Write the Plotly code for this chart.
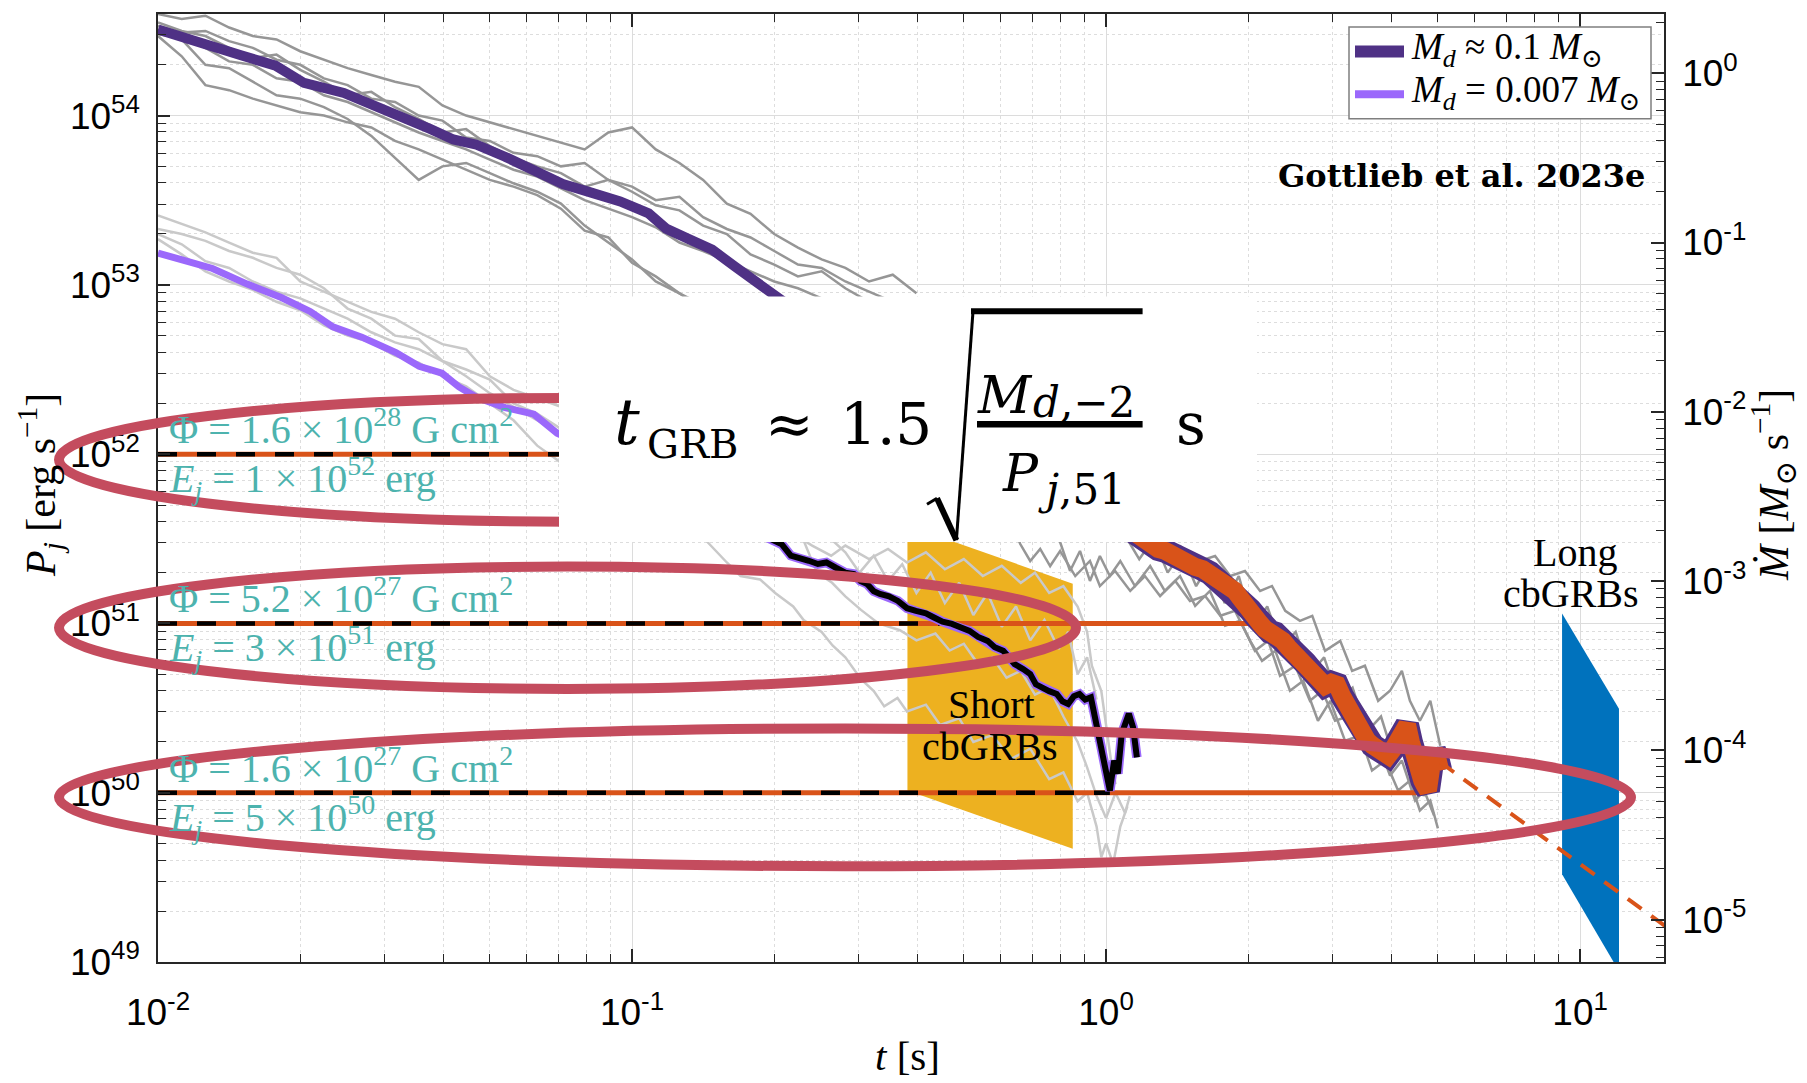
import plotly.graph_objects as go

# ---------------- values (log10 units) ----------------
# t grid shared by the individual Md~0.1 runs (early part)
gray_top_logt = [-2.00, -1.95, -1.90, -1.85, -1.80, -1.75, -1.70, -1.65, -1.60, -1.55, -1.50,
                 -1.45, -1.40, -1.35, -1.30, -1.25, -1.20, -1.15, -1.10, -1.05, -1.00, -0.95,
                 -0.90, -0.85, -0.80, -0.75, -0.70, -0.65, -0.60, -0.55, -0.50, -0.45, -0.40]
run1_logP = [54.60, 54.57, 54.59, 54.52, 54.47, 54.45, 54.38, 54.33, 54.28, 54.24, 54.20, 54.17,
             54.06, 54.00, 53.96, 53.92, 53.88, 53.84, 53.80, 53.90, 53.93, 53.80, 53.72, 53.62,
             53.48, 53.42, 53.30, 53.22, 53.15, 53.10, 53.02, 53.06, 52.95]
run2_logP = [54.55, 54.50, 54.47, 54.40, 54.34, 54.36, 54.27, 54.20, 54.12, 54.14, 54.05, 53.98,
             53.90, 53.92, 53.82, 53.75, 53.70, 53.66, 53.58, 53.62, 53.55, 53.47, 53.44, 53.35,
             53.30, 53.18, 53.12, 53.05, 53.08, 52.98, 52.90, 52.85, 52.80]
run3_logP = [54.50, 54.45, 54.30, 54.28, 54.20, 54.12, 54.10, 54.05, 53.98, 53.88, 53.75, 53.62,
             53.70, 53.72, 53.66, 53.60, 53.55, 53.48, 53.35, 53.25, 53.15, 53.02, 52.95, 52.85,
             52.75, 52.65, 52.55, 52.45, 52.35, 52.25, 52.15, 52.05, 51.95]
run4_logP = [54.47, 54.35, 54.18, 54.15, 54.10, 54.06, 54.02, 54.00, 53.96, 53.93, 53.85, 53.80,
             53.74, 53.68, 53.62, 53.58, 53.53, 53.45, 53.32, 53.28, 53.13, 53.05, 52.95, 52.88,
             52.80, 52.70, 52.60, 52.50, 52.40, 52.30, 52.20, 52.10, 52.00]
run5_logP = [54.53, 54.49, 54.50, 54.44, 54.40, 54.33, 54.30, 54.22, 54.18, 54.10, 54.08, 54.00,
             53.97, 53.87, 53.85, 53.78, 53.76, 53.70, 53.72, 53.62, 53.58, 53.50, 53.52, 53.40,
             53.33, 53.28, 53.20, 53.12, 53.10, 53.02, 52.96, 52.90, 52.85]
run6_logP = [54.48, 54.46, 54.40, 54.32, 54.30, 54.22, 54.20, 54.12, 54.08, 54.02, 53.96, 53.90,
             53.85, 53.80, 53.74, 53.68, 53.64, 53.57, 53.50, 53.45, 53.40, 53.34, 53.25, 53.20,
             53.14, 53.08, 53.02, 52.98, 52.92, 52.88, 52.85, 52.80, 52.75]

# Md~0.1 runs, late part
late1_logt = [-0.20, -0.181, -0.160, -0.139, -0.118, -0.097, -0.065, -0.034, -0.013, 0.019, 0.051,
              0.082, 0.114, 0.146, 0.177, 0.209, 0.241, 0.272, 0.304, 0.329, 0.357, 0.388, 0.416,
              0.447, 0.473, 0.504, 0.536, 0.561, 0.589, 0.616, 0.641, 0.662, 0.684, 0.700]
late1_logP = [51.60, 51.469, 51.369, 51.440, 51.339, 51.428, 51.280, 51.369, 51.221, 51.310, 51.192,
              51.280, 51.162, 51.251, 51.133, 51.162, 51.045, 51.074, 50.897, 50.779, 50.838, 50.602,
              50.661, 50.425, 50.543, 50.308, 50.337, 50.131, 50.190, 50.013, 50.072, 49.895, 49.954,
              49.789]
late2_logt = [0.05, 0.093, 0.124, 0.156, 0.198, 0.230, 0.262, 0.293, 0.325, 0.350, 0.378, 0.409,
              0.435, 0.462, 0.494, 0.519, 0.546, 0.574, 0.599, 0.624, 0.641, 0.662, 0.684, 0.705]
late2_logP = [51.60, 51.469, 51.440, 51.457, 51.369, 51.398, 51.280, 51.310, 51.192, 51.221, 51.074,
              51.015, 51.045, 50.838, 50.897, 50.720, 50.750, 50.543, 50.602, 50.720, 50.543, 50.425,
              50.543, 50.278]
late3_logt = [-0.12, -0.097, -0.076, -0.055, -0.034, -0.013, 0.008, 0.030, 0.061, 0.093, 0.124,
              0.156, 0.188, 0.219, 0.251, 0.283, 0.314, 0.342, 0.367, 0.399, 0.430, 0.456, 0.483,
              0.515, 0.540, 0.568, 0.599, 0.624, 0.652, 0.671, 0.692]
late3_logP = [51.60, 51.481, 51.310, 51.428, 51.251, 51.398, 51.280, 51.369, 51.221, 51.339, 51.192,
              51.280, 51.104, 51.192, 50.986, 51.015, 50.838, 50.897, 50.691, 50.750, 50.543, 50.602,
              50.425, 50.455, 50.278, 50.337, 50.101, 50.190, 49.954, 50.013, 49.865]
late4_logt = [0.00, 0.04, 0.07, 0.10, 0.13, 0.16, 0.19, 0.22, 0.25, 0.28, 0.31, 0.34, 0.37, 0.40,
              0.43, 0.46, 0.49, 0.52, 0.55, 0.58, 0.61, 0.64, 0.67, 0.69]
late4_logP = [51.60, 51.52, 51.38, 51.50, 51.30, 51.42, 51.22, 51.36, 51.12, 51.28, 50.98, 51.10,
              50.86, 50.95, 50.70, 50.80, 50.55, 50.62, 50.36, 50.45, 50.18, 50.40, 49.98, 50.20]

# Md = 0.007 runs, early part
lgray_top_logt = [-2.00, -1.95, -1.90, -1.85, -1.80, -1.75, -1.70, -1.65, -1.60, -1.55, -1.50,
                  -1.45, -1.40, -1.35, -1.30, -1.25, -1.20, -1.15, -1.10]
lrun1_logP = [53.41, 53.36, 53.31, 53.25, 53.19, 53.16, 53.02, 52.96, 52.90, 52.84, 52.80, 52.72,
              52.65, 52.62, 52.46, 52.38, 52.33, 52.28, 52.20]
lrun2_logP = [53.33, 53.30, 53.26, 53.20, 53.16, 53.10, 53.06, 52.98, 52.86, 52.80, 52.70, 52.68,
              52.55, 52.50, 52.44, 52.30, 52.24, 52.15, 52.10]
lrun3_logP = [53.27, 53.18, 53.08, 53.02, 52.97, 52.90, 52.85, 52.76, 52.70, 52.66, 52.58, 52.54,
              52.46, 52.40, 52.30, 52.20, 52.05, 51.95, 51.90]
lrun4_logP = [53.30, 53.24, 53.14, 53.10, 53.02, 52.96, 52.92, 52.86, 52.80, 52.72, 52.66, 52.62,
              52.55, 52.46, 52.36, 52.28, 52.20, 52.12, 52.02]

# Md = 0.007 runs, late part
llate1_logt = [-0.70, -0.62, -0.58, -0.55, -0.50, -0.46, -0.42, -0.38, -0.34, -0.30, -0.26, -0.22,
               -0.18, -0.15, -0.12, -0.09, -0.06, -0.04, -0.03, -0.01, 0.00, 0.01, 0.02]
llate1_logP = [51.60, 51.46, 51.40, 51.46, 51.38, 51.44, 51.36, 51.42, 51.32, 51.38, 51.28, 51.34,
               51.24, 51.30, 51.18, 51.22, 51.10, 50.95, 50.75, 50.60, 50.40, 50.20, 50.05]
llate2_logt = [-0.70, -0.638, -0.61, -0.578, -0.55, -0.517, -0.48, -0.435, -0.40, -0.36, -0.33,
               -0.30, -0.27, -0.24, -0.21, -0.18, -0.15, -0.12, -0.09, -0.06, -0.04, -0.02, 0.00,
               0.02, 0.04, 0.05]
llate2_logP = [51.60, 51.49, 51.30, 51.24, 51.16, 51.08, 51.00, 50.96, 50.90, 50.94, 50.84, 50.88,
               50.76, 50.80, 50.68, 50.72, 50.58, 50.62, 50.45, 50.30, 50.15, 49.98, 49.85, 50.00,
               49.88, 49.98]
llate3_logt = [-0.95, -0.844, -0.80, -0.771, -0.73, -0.698, -0.66, -0.638, -0.60, -0.577, -0.55,
               -0.517, -0.49, -0.468, -0.44, -0.42, -0.38, -0.35, -0.31, -0.28, -0.24, -0.20, -0.16,
               -0.12, -0.09, -0.06, -0.04, -0.02, -0.01, 0.00, 0.015, 0.03, 0.045]
llate3_logP = [51.60, 51.49, 51.36, 51.28, 51.26, 51.18, 51.10, 51.02, 50.95, 50.87, 50.80, 50.67,
               50.60, 50.51, 50.56, 50.48, 50.52, 50.40, 50.44, 50.30, 50.34, 50.20, 50.26, 50.08,
               50.12, 49.95, 50.00, 49.80, 49.62, 49.70, 49.58, 49.80, 49.92]
llate4_logt = [-0.60, -0.55, -0.52, -0.49, -0.46, -0.43, -0.40, -0.37, -0.34, -0.31, -0.28, -0.25,
               -0.22, -0.19, -0.16, -0.13, -0.10, -0.08, -0.06, -0.04, -0.02]
llate4_logP = [51.55, 51.42, 51.30, 51.40, 51.25, 51.35, 51.18, 51.30, 51.12, 51.24, 51.05, 51.18,
               50.98, 51.10, 50.90, 51.02, 50.85, 50.95, 50.70, 50.80, 50.55]

# mean curves
dark_logt = [-2.000, -1.909, -1.825, -1.752, -1.692, -1.608, -1.546, -1.485, -1.425, -1.377, -1.328,
             -1.268, -1.207, -1.146, -1.086, -1.025, -0.965, -0.928, -0.880, -0.831, -0.783, -0.734,
             -0.698, -0.62]
dark_logP = [54.509, 54.437, 54.356, 54.295, 54.193, 54.134, 54.063, 54.001, 53.920, 53.859, 53.828,
             53.757, 53.676, 53.595, 53.545, 53.493, 53.422, 53.332, 53.270, 53.208, 53.108, 53.008,
             52.945, 52.78]
orange_logt = [-0.05, 0.03, 0.093, 0.110, 0.125, 0.140, 0.156, 0.172, 0.188, 0.204, 0.219, 0.232,
               0.245, 0.258, 0.272, 0.283, 0.293, 0.304, 0.314, 0.325, 0.335, 0.346, 0.357, 0.366,
               0.373, 0.384, 0.395, 0.408, 0.420, 0.431, 0.441, 0.452, 0.462, 0.475, 0.487, 0.498,
               0.508, 0.519, 0.530, 0.541, 0.551, 0.562, 0.572, 0.584, 0.595, 0.606, 0.616, 0.626,
               0.635, 0.643, 0.650, 0.659, 0.667, 0.673, 0.679, 0.686, 0.692, 0.699, 0.705]
orange_logP = [51.75, 51.58, 51.469, 51.44, 51.428, 51.40, 51.381, 51.36, 51.334, 51.32, 51.298,
               51.27, 51.239, 51.22, 51.192, 51.15, 51.104, 51.08, 51.045, 51.00, 50.968, 50.95,
               50.94, 50.92, 50.897, 50.86, 50.826, 50.80, 50.767, 50.73, 50.703, 50.67, 50.632,
               50.65, 50.638, 50.57, 50.514, 50.46, 50.414, 50.35, 50.308, 50.28, 50.260, 50.23,
               50.219, 50.26, 50.319, 50.37, 50.40, 50.30, 50.190, 50.12, 50.072, 50.04, 50.013,
               50.15, 50.25, 50.20, 50.131]
light_logt = [-2.000, -1.885, -1.813, -1.740, -1.679, -1.631, -1.570, -1.498, -1.449, -1.401, -1.365,
              -1.328, -1.268, -1.207, -1.158, -1.10]
light_logP = [53.188, 53.097, 53.006, 52.925, 52.843, 52.752, 52.691, 52.600, 52.519, 52.478, 52.397,
              52.336, 52.275, 52.236, 52.124, 52.05]
black_logt = [-0.80, -0.72, -0.684, -0.665, -0.646, -0.627, -0.608, -0.590, -0.570, -0.550, -0.532,
              -0.518, -0.504, -0.490, -0.477, -0.458, -0.439, -0.420, -0.401, -0.380, -0.363, -0.345,
              -0.325, -0.305, -0.288, -0.270, -0.250, -0.235, -0.217, -0.205, -0.193, -0.175, -0.160,
              -0.148, -0.137, -0.120, -0.104, -0.092, -0.080, -0.068, -0.056, -0.044, -0.032, -0.023,
              -0.015, -0.007, 0.000, 0.008, 0.017, 0.025, 0.033, 0.041, 0.048, 0.057, 0.065]
black_logP = [51.62, 51.52, 51.467, 51.40, 51.388, 51.37, 51.351, 51.36, 51.329, 51.30, 51.292,
              51.25, 51.233, 51.19, 51.174, 51.16, 51.133, 51.09, 51.074, 51.06, 51.035, 51.01,
              50.997, 50.97, 50.956, 50.92, 50.897, 50.86, 50.838, 50.80, 50.760, 50.73, 50.701,
              50.64, 50.622, 50.60, 50.583, 50.54, 50.524, 50.57, 50.583, 50.55, 50.563, 50.445,
              50.349, 50.231, 50.150, 50.013, 50.190, 50.113, 50.349, 50.425, 50.467, 50.386, 50.209]

# extrapolation on the Mdot axis
extrap_logt = [0.705, 1.20]
extrap_logMdot = [-4.07, -5.08]

# cbGRB regions
short_logt = [-0.419, -0.0703, -0.0703, -0.419]
short_logP = [51.579, 51.235, 49.669, 50.013]
long_logt = [0.962, 1.082, 1.082, 0.962]
long_logP = [51.058, 50.496, 48.946, 49.518]

# reference power levels
level_logP = [52.0, 51.0, 50.0]
level_orange_end_logt = [0.0, 0.304, 0.656]
level_dash_end_logt = [-0.5, -0.35, 0.008]
phi_labels = ["Φ = 1.6 × 10<sup>28</sup> G cm<sup>2</sup>",
              "Φ = 5.2 × 10<sup>27</sup> G cm<sup>2</sup>",
              "Φ = 1.6 × 10<sup>27</sup> G cm<sup>2</sup>"]
ej_labels = ["<i>E<sub>j</sub></i> = 1 × 10<sup>52</sup> erg",
             "<i>E<sub>j</sub></i> = 3 × 10<sup>51</sup> erg",
             "<i>E<sub>j</sub></i> = 5 × 10<sup>50</sup> erg"]
legend_labels = ["<i>M<sub>d</sub></i> ≈ 0.1 <i>M</i><sub>⊙</sub>",
                 "<i>M<sub>d</sub></i> = 0.007 <i>M</i><sub>⊙</sub>"]

# tick labels
x_tick_vals = [0.01, 0.1, 1.0, 10.0]
x_tick_text = ["10<sup>-2</sup>", "10<sup>-1</sup>", "10<sup>0</sup>", "10<sup>1</sup>"]
y_tick_vals = [1e49, 1e50, 1e51, 1e52, 1e53, 1e54]
y_tick_text = ["10<sup>49</sup>", "10<sup>50</sup>", "10<sup>51</sup>", "10<sup>52</sup>",
               "10<sup>53</sup>", "10<sup>54</sup>"]
y2_tick_vals = [1e-5, 1e-4, 1e-3, 1e-2, 1e-1, 1.0]
y2_tick_text = ["10<sup>-5</sup>", "10<sup>-4</sup>", "10<sup>-3</sup>", "10<sup>-2</sup>",
                "10<sup>-1</sup>", "10<sup>0</sup>"]

# ---------------- helpers / styles ----------------
def pw(v):
    return [float(10.0 ** float(a)) for a in v]

def minor_vals(e0, e1):
    return [k * 10.0 ** e for e in range(e0, e1) for k in range(2, 10)]

ORANGE = '#D95319'
DARKP = '#4F3185'
LIGHTP = '#9B68FB'
GRAY = '#969696'
LGRAY = '#C9C9C9'
SERIF = 'Liberation Serif, DejaVu Serif, serif'
MATH = 'DejaVu Serif, Liberation Serif, serif'
TEAL = '#4DB3AE'
ELL = '#C44C5E'

fig = go.Figure()

def line(xl, yl, color, width, dash=None, yaxis='y'):
    fig.add_trace(go.Scatter(
        x=pw(xl), y=pw(yl), mode='lines', yaxis=yaxis,
        line=dict(color=color, width=width, dash=dash),
        showlegend=False, hoverinfo='skip'))

# regions
for lt, lp, col in [(short_logt, short_logP, '#EDB120'), (long_logt, long_logP, '#0072BD')]:
    fig.add_trace(go.Scatter(x=pw(lt), y=pw(lp), mode='lines', fill='toself', fillcolor=col,
                             line=dict(width=0, color=col), showlegend=False, hoverinfo='skip'))

# individual runs
for yl in [run1_logP, run2_logP, run3_logP, run4_logP, run5_logP, run6_logP]:
    line(gray_top_logt, yl, GRAY, 2.5)
for xl, yl in [(late1_logt, late1_logP), (late2_logt, late2_logP), (late3_logt, late3_logP),
               (late4_logt, late4_logP)]:
    line(xl, yl, GRAY, 2.5)
for yl in [lrun1_logP, lrun2_logP, lrun3_logP, lrun4_logP]:
    line(lgray_top_logt, yl, LGRAY, 2.5)
for xl, yl in [(llate1_logt, llate1_logP), (llate2_logt, llate2_logP), (llate3_logt, llate3_logP),
               (llate4_logt, llate4_logP)]:
    line(xl, yl, LGRAY, 2.5)

# reference levels
for lv, oe, de in zip(level_logP, level_orange_end_logt, level_dash_end_logt):
    line([-2.0, oe], [lv, lv], ORANGE, 5)
    line([-2.0, de], [lv, lv], 'black', 4.5, dash='19px,20px')

# mean curves
line(light_logt, light_logP, LIGHTP, 7)
line(dark_logt, dark_logP, DARKP, 10)
line(black_logt, black_logP, LIGHTP, 9.5)
line(black_logt, black_logP, 'black', 6)
line(orange_logt, orange_logP, DARKP, 24)
line(orange_logt, orange_logP, ORANGE, 18)
line(extrap_logt, extrap_logMdot, ORANGE, 4, dash='17px,12px', yaxis='y2')

# ---------------- overlay geometry (paper coords from pixel positions) -------------
L, R, T, B = 158, 1664, 12, 962
def px(x):
    return (x - L) / (R - L)
def py(y):
    return (B - y) / (B - T)

shapes = []
for (x0, x1, y0, y1) in [(59, 1076, 396.7, 520.7), (59, 1076, 565.7, 688.3), (59, 1631, 728, 866)]:
    shapes.append(dict(type='circle', xref='paper', yref='paper', x0=px(x0), x1=px(x1),
                       y0=py(y1), y1=py(y0), line=dict(color=ELL, width=10), layer='above'))
shapes.append(dict(type='rect', xref='paper', yref='paper', x0=px(559), x1=px(1257),
                   y0=py(541), y1=py(295), fillcolor='white', line=dict(width=0), layer='above'))
for (xa, ya, xb, yb, w) in [(927, 503.3, 937, 497.3, 3), (937, 497.3, 956.4, 539.3, 6),
                            (956.4, 539.3, 973, 310, 3), (971, 310, 1142.6, 310, 6),
                            (977, 423, 1142.6, 423, 6.5)]:
    shapes.append(dict(type='line', xref='paper', yref='paper', x0=px(xa), y0=py(ya),
                       x1=px(xb), y1=py(yb), line=dict(color='black', width=w), layer='above'))
# legend box with line samples
shapes.append(dict(type='rect', xref='paper', yref='paper', x0=px(1349), x1=px(1651),
                   y0=py(117), y1=py(25), fillcolor='white',
                   line=dict(color='#7F7F7F', width=1.5), layer='above'))
shapes.append(dict(type='line', xref='paper', yref='paper', x0=px(1355), x1=px(1404),
                   y0=py(49.5), y1=py(49.5), line=dict(color=DARKP, width=12), layer='above'))
shapes.append(dict(type='line', xref='paper', yref='paper', x0=px(1355), x1=px(1404),
                   y0=py(92.5), y1=py(92.5), line=dict(color=LIGHTP, width=8), layer='above'))

ann = []
def txt(text, x, y, size, family=SERIF, color='black', xanchor='left', yanchor='middle',
        angle=0, xref='paper', yref='paper', yshift=0):
    ann.append(dict(text=text, x=x, y=y, xref=xref, yref=yref, showarrow=False,
                    font=dict(size=size, family=family, color=color), xanchor=xanchor,
                    yanchor=yanchor, textangle=angle, yshift=yshift))

# legend texts
txt(legend_labels[0], px(1409), py(47.5), 37)
txt(legend_labels[1], px(1409), py(90.5), 37)

# teal labels
for lv, ph, ej in zip(level_logP, phi_labels, ej_labels):
    txt(ph, px(167), lv, 40, color=TEAL, yanchor='bottom', yref='y', yshift=0)
    txt(ej, px(167), lv, 40, color=TEAL, yanchor='top', yref='y', yshift=6)

# formula
txt('<i>t</i>', px(612), py(421), 64, family=MATH)
txt('GRB', px(645), py(443), 40, family=MATH)
txt('≈', px(789), py(423), 58, family=MATH, xanchor='center')
txt('1.5', px(838), py(423), 58, family=MATH)
txt('<i>M</i>', px(975), py(394), 52, family=MATH)
txt('<i>d</i>,−2', px(1031), py(401), 42, family=MATH)
txt('<i>P</i>', px(1000), py(472), 52, family=MATH)
txt('<i>j</i>,51', px(1036), py(489), 42, family=MATH)
txt('s', px(1174), py(423), 58, family=MATH)

# other texts
txt('<b>Gottlieb et al. 2023e</b>', px(1647), py(174), 32, family=MATH, xanchor='right')
txt('Short', px(992), py(704), 40, xanchor='center')
txt('cbGRBs', px(990), py(746), 40, xanchor='center')
txt('Long', px(1575), py(552), 40, xanchor='center')
txt('cbGRBs', px(1571), py(593), 40, xanchor='center')

# axis titles
txt('<i>P<sub>j</sub></i> [erg s<sup>−1</sup>]', px(40), py(484), 42, xanchor='center', angle=-90)
txt('<i>t</i> [s]', px(907), py(1056), 41, xanchor='center')
txt('<i>Ṁ</i> [<i>M</i><sub>⊙</sub> s<sup>−1</sup>]', px(1773), py(484), 42, xanchor='center',
    angle=-90)

AX = '#262626'
def minor(vals, grid):
    d = dict(tickmode='array', tickvals=vals, ticks='inside', ticklen=8, tickcolor=AX,
             tickwidth=1.2, showgrid=grid)
    if grid:
        d.update(gridcolor='#DDDDDD', griddash='dot', gridwidth=1)
    return d

common = dict(type='log', tickmode='array', ticks='inside', tickwidth=1.5, tickcolor=AX,
              showline=True, linecolor=AX, linewidth=1.5, zeroline=False,
              tickfont=dict(size=37, family='Liberation Sans, Arial, sans-serif', color='black'))

fig.update_layout(
    width=1807, height=1083, autosize=False,
    margin=dict(l=L, r=1807 - R, t=T, b=1083 - B),
    paper_bgcolor='white', plot_bgcolor='white',
    font=dict(family='Liberation Sans, Arial, sans-serif', color='black', size=35),
    hovermode=False, showlegend=False,
    xaxis=dict(range=[-2, 1.177], tickvals=x_tick_vals, ticktext=x_tick_text, ticklen=13,
               mirror='ticks', showgrid=True, gridcolor='#DCDCDC', gridwidth=1.2,
               ticklabelstandoff=17, minor=minor(minor_vals(-2, 2), True), **common),
    yaxis=dict(range=[49, 54.6], tickvals=y_tick_vals, ticktext=y_tick_text, ticklen=12,
               showgrid=True, gridcolor='#DCDCDC', gridwidth=1.2, ticklabelstandoff=9,
               minor=minor(minor_vals(49, 55), True), **common),
    yaxis2=dict(range=[-5.25, 0.35], tickvals=y2_tick_vals, ticktext=y2_tick_text, ticklen=13,
                overlaying='y', side='right', anchor='x', showgrid=False, ticklabelstandoff=9,
                minor=minor(minor_vals(-6, 1), False), **common),
    shapes=shapes, annotations=ann,
)

fig.write_html('out.html', config={'displayModeBar': False})
